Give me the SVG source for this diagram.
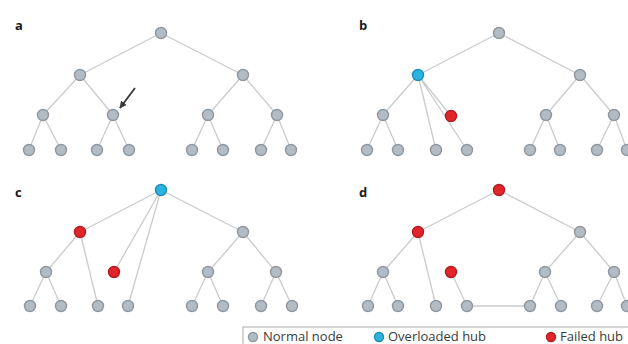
<svg xmlns="http://www.w3.org/2000/svg" width="628" height="344" viewBox="0 0 628 344">
  <style>
    .edge { stroke: #c9cbcd; stroke-width: 1.3; fill: none; }
    .n { fill: #b3bcc4; stroke: #8e979f; stroke-width: 1.4; }
    .hub { fill: #2db3e0; stroke: #1c8fb8; stroke-width: 1.4; }
    .fail { fill: #e1262b; stroke: #b51a1e; stroke-width: 1.4; }
    .lbl { font-family: "Open Sans", "Liberation Sans", sans-serif; font-weight: bold; font-size: 13px; fill: #1a1a1a; }
    .key { font-family: "Open Sans", "Liberation Sans", sans-serif; font-size: 13px; fill: #3a3a3a; }
  </style>
  <defs>
    <marker id="head" viewBox="0 0 10 10" refX="9" refY="5" markerWidth="4" markerHeight="4" orient="auto">
      <path d="M0,0 L10,5 L0,10 z" fill="#3a3a3a"/>
    </marker>
  </defs>
  <rect width="628" height="344" fill="#ffffff"/>

  <!-- panel labels -->
  <text class="lbl" x="15" y="30">a</text>
  <text class="lbl" x="359" y="30">b</text>
  <text class="lbl" x="15" y="197">c</text>
  <text class="lbl" x="359" y="197">d</text>

  <g id="connectors">
    <!-- panel a: intact tree -->
    <path class="edge" d="M161,33 L80,75 M161,33 L243,75
      M80,75 L43,115 M80,75 L113,115 M243,75 L208,115 M243,75 L277,115
      M43,115 L29,150 M43,115 L61,150 M113,115 L97,150 M113,115 L129,150
      M208,115 L192,150 M208,115 L223,150 M277,115 L261,150 M277,115 L291,150"/>
    <line x1="135" y1="88" x2="120" y2="108" stroke="#3a3a3a" stroke-width="1.8" marker-end="url(#head)"/>

    <!-- panel b: first failure, load moves to the parent hub -->
    <path class="edge" d="M499,33 L418,75 M499,33 L580,75
      M418,75 L383,115 M418,75 L451,116 M418,75 L436,150 M418,75 L467,150
      M580,75 L546,115 M580,75 L614,115
      M383,115 L367,150 M383,115 L398,150
      M546,115 L530,150 M546,115 L560,150 M614,115 L597,150 M614,115 L627,150"/>

    <!-- panel c: cascade reaches the root -->
    <path class="edge" d="M161,190 L80,232 M161,190 L114,272 M161,190 L128,306 M161,190 L243,232
      M80,232 L46,272 M80,232 L98,306
      M243,232 L208,272 M243,232 L276,272
      M46,272 L30,306 M46,272 L61,306
      M208,272 L192,306 M208,272 L223,306 M276,272 L261,306 M276,272 L292,306"/>

    <!-- panel d: root fails, leaf rewires sideways -->
    <path class="edge" d="M499,190 L418,232 M499,190 L580,232
      M418,232 L383,272 M418,232 L436,306
      M451,272 L467,306 M467,306 L530,306
      M580,232 L545,272 M580,232 L614,272
      M383,272 L368,306 M383,272 L398,306
      M545,272 L530,306 M545,272 L561,306 M614,272 L597,306 M614,272 L627,306"/>
  </g>

  <!-- panel a nodes -->
  <g id="a-root"><circle class="n" cx="161" cy="33" r="5.5"/></g>
  <g id="a-l1"><circle class="n" cx="80" cy="75" r="5.5"/></g>
  <g id="a-r1"><circle class="n" cx="243" cy="75" r="5.5"/></g>
  <g id="a-l2a"><circle class="n" cx="43" cy="115" r="5.5"/></g>
  <g id="a-l2b"><circle class="n" cx="113" cy="115" r="5.5"/></g>
  <g id="a-r2a"><circle class="n" cx="208" cy="115" r="5.5"/></g>
  <g id="a-r2b"><circle class="n" cx="277" cy="115" r="5.5"/></g>
  <g id="a-leaves">
    <circle class="n" cx="29" cy="150" r="5.5"/><circle class="n" cx="61" cy="150" r="5.5"/>
    <circle class="n" cx="97" cy="150" r="5.5"/><circle class="n" cx="129" cy="150" r="5.5"/>
    <circle class="n" cx="192" cy="150" r="5.5"/><circle class="n" cx="223" cy="150" r="5.5"/>
    <circle class="n" cx="261" cy="150" r="5.5"/><circle class="n" cx="291" cy="150" r="5.5"/>
  </g>

  <!-- panel b nodes -->
  <g id="b-root"><circle class="n" cx="499" cy="33" r="5.5"/></g>
  <g id="b-l1"><circle class="hub" cx="418" cy="75" r="5.5"/></g>
  <g id="b-r1"><circle class="n" cx="580" cy="75" r="5.5"/></g>
  <g id="b-l2a"><circle class="n" cx="383" cy="115" r="5.5"/></g>
  <g id="b-l2b"><circle class="fail" cx="451" cy="116" r="5.5"/></g>
  <g id="b-r2a"><circle class="n" cx="546" cy="115" r="5.5"/></g>
  <g id="b-r2b"><circle class="n" cx="614" cy="115" r="5.5"/></g>
  <g id="b-leaves">
    <circle class="n" cx="367" cy="150" r="5.5"/><circle class="n" cx="398" cy="150" r="5.5"/>
    <circle class="n" cx="436" cy="150" r="5.5"/><circle class="n" cx="467" cy="150" r="5.5"/>
    <circle class="n" cx="530" cy="150" r="5.5"/><circle class="n" cx="560" cy="150" r="5.5"/>
    <circle class="n" cx="597" cy="150" r="5.5"/><circle class="n" cx="627" cy="150" r="5.5"/>
  </g>

  <!-- panel c nodes -->
  <g id="c-root"><circle class="hub" cx="161" cy="190" r="5.5"/></g>
  <g id="c-l1"><circle class="fail" cx="80" cy="232" r="5.5"/></g>
  <g id="c-r1"><circle class="n" cx="243" cy="232" r="5.5"/></g>
  <g id="c-l2a"><circle class="n" cx="46" cy="272" r="5.5"/></g>
  <g id="c-l2b"><circle class="fail" cx="114" cy="272" r="5.5"/></g>
  <g id="c-r2a"><circle class="n" cx="208" cy="272" r="5.5"/></g>
  <g id="c-r2b"><circle class="n" cx="276" cy="272" r="5.5"/></g>
  <g id="c-leaves">
    <circle class="n" cx="30" cy="306" r="5.5"/><circle class="n" cx="61" cy="306" r="5.5"/>
    <circle class="n" cx="98" cy="306" r="5.5"/><circle class="n" cx="128" cy="306" r="5.5"/>
    <circle class="n" cx="192" cy="306" r="5.5"/><circle class="n" cx="223" cy="306" r="5.5"/>
    <circle class="n" cx="261" cy="306" r="5.5"/><circle class="n" cx="292" cy="306" r="5.5"/>
  </g>

  <!-- panel d nodes -->
  <g id="d-root"><circle class="fail" cx="499" cy="190" r="5.5"/></g>
  <g id="d-l1"><circle class="fail" cx="418" cy="232" r="5.5"/></g>
  <g id="d-r1"><circle class="n" cx="580" cy="232" r="5.5"/></g>
  <g id="d-l2a"><circle class="n" cx="383" cy="272" r="5.5"/></g>
  <g id="d-l2b"><circle class="fail" cx="451" cy="272" r="5.5"/></g>
  <g id="d-r2a"><circle class="n" cx="545" cy="272" r="5.5"/></g>
  <g id="d-r2b"><circle class="n" cx="614" cy="272" r="5.5"/></g>
  <g id="d-leaves">
    <circle class="n" cx="368" cy="306" r="5.5"/><circle class="n" cx="398" cy="306" r="5.5"/>
    <circle class="n" cx="436" cy="306" r="5.5"/><circle class="n" cx="467" cy="306" r="5.5"/>
    <circle class="n" cx="530" cy="306" r="5.5"/><circle class="n" cx="561" cy="306" r="5.5"/>
    <circle class="n" cx="597" cy="306" r="5.5"/><circle class="n" cx="627" cy="306" r="5.5"/>
  </g>

  <!-- key -->
  <g id="legend">
    <rect x="243" y="327" width="400" height="30" fill="#ffffff" stroke="#a9a9a9" stroke-width="1"/>
    <circle class="n" cx="253" cy="337" r="4.5"/>
    <text class="key" x="263" y="341">Normal node</text>
    <circle class="hub" cx="379" cy="337" r="4.5"/>
    <text class="key" x="388" y="341">Overloaded hub</text>
    <circle class="fail" cx="551" cy="337" r="4.5"/>
    <text class="key" x="560" y="341">Failed hub</text>
  </g>
</svg>
